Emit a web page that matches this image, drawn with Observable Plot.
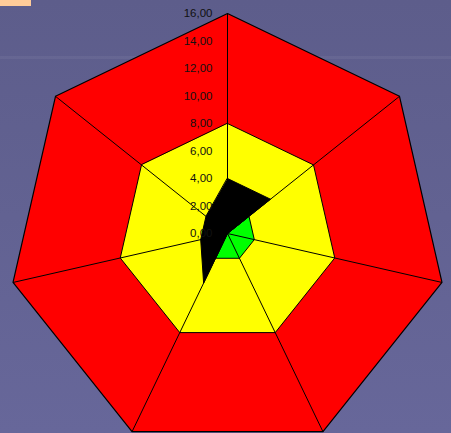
<!DOCTYPE html>
<html>
<head>
<meta charset="utf-8">
<script src="https://cdn.jsdelivr.net/npm/d3@7"></script>
<script src="https://cdn.jsdelivr.net/npm/@observablehq/plot@0.6"></script>
<style>
  html, body { margin: 0; padding: 0; }
  body {
    width: 451px; height: 433px; overflow: hidden; position: relative;
    background:
      linear-gradient(to bottom, rgba(255,255,255,0) 0px, rgba(255,255,255,0) 56px, rgba(255,255,255,0.05) 56px, rgba(255,255,255,0.05) 59px, rgba(255,255,255,0) 59px),
      linear-gradient(to bottom, #5d5d8b 0%, #626292 50%, #67679a 100%);
  }
  #badge { position: absolute; left: 0; top: 0; width: 31px; height: 6px; background: #ffcc99; }
  #chart { position: absolute; left: 0; top: 0; }
</style>
</head>
<body>
<div id="badge"></div>
<div id="chart"></div>
<script>
// Seven radar axes (clockwise from the top)
const axes = ["A1", "A2", "A3", "A4", "A5", "A6", "A7"];
// Series values
const redValues    = [16, 16, 16, 16, 16, 16, 16];
const yellowValues = [8, 8, 8, 8, 8, 8, 8];
const greenValues  = [0, 2, 2, 2, 2, 0, 0];
const blackValues  = [4, 4, 0, 0, 4, 2, 2];
// Radial tick values & labels
const tickValues = [0, 2, 4, 6, 8, 10, 12, 14, 16];
const tickLabels = ["0,00", "2,00", "4,00", "6,00", "8,00", "10,00", "12,00", "14,00", "16,00"];

const n = axes.length;
const angle = i => (2 * Math.PI * i) / n;
const toPoints = vals => vals.map((v, i) => ({axis: axes[i], x: v * Math.sin(angle(i)), y: v * Math.cos(angle(i))}));

const maxV = 16;
const spokes = axes.map((a, i) => ({axis: a, x1: 0, y1: 0, x2: maxV * Math.sin(angle(i)), y2: maxV * Math.cos(angle(i))}));
const ticks = tickValues.map((v, i) => ({v, label: tickLabels[i]}));

const W = 451, H = 433, cx = 227, cy = 233, k = 13.75;

const chart = Plot.plot({
  width: W,
  height: H,
  margin: 0,
  style: {background: "transparent", overflow: "visible"},
  x: {domain: [-cx / k, (W - cx) / k], axis: null},
  y: {domain: [-(H - cy) / k, cy / k], axis: null},
  marks: [
    Plot.line(toPoints(redValues), {x: "x", y: "y", curve: "linear-closed", fill: "#ff0000", stroke: "#000", strokeWidth: 1.2}),
    Plot.line(toPoints(yellowValues), {x: "x", y: "y", curve: "linear-closed", fill: "#ffff00", stroke: "#000", strokeWidth: 1}),
    Plot.line(toPoints(greenValues), {x: "x", y: "y", curve: "linear-closed", fill: "#00ff00", stroke: "#000", strokeWidth: 1}),
    Plot.link(spokes, {x1: "x1", y1: "y1", x2: "x2", y2: "y2", stroke: "#000", strokeWidth: 1}),
    Plot.line(toPoints(blackValues), {x: "x", y: "y", curve: "linear-closed", fill: "#000", stroke: "#000", strokeWidth: 1}),
    Plot.text(ticks, {x: 0, y: "v", text: "label", textAnchor: "end", dx: -15, fill: "#111",
      fontSize: 11.5, fontFamily: "Liberation Sans, Arial, sans-serif"})
  ]
});
document.getElementById("chart").appendChild(chart);
</script>
</body>
</html>
